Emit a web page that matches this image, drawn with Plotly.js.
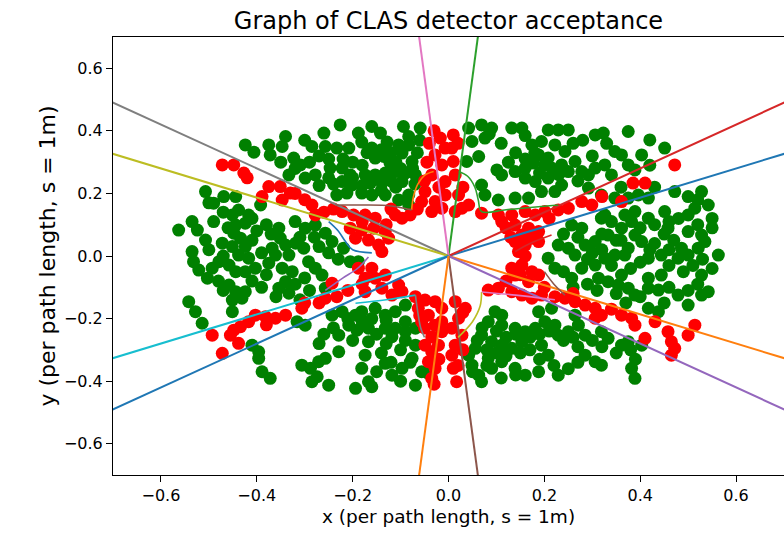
<!DOCTYPE html>
<html>
<head>
<meta charset="utf-8">
<script src="https://cdn.plot.ly/plotly-3.0.1.min.js"></script>
<style>html,body{margin:0;padding:0;background:#fff;}#chart{width:784px;height:539px;}</style>
</head>
<body>
<div id="chart"></div>
<script>
// accepted tracks (green), [x, y]
const greenPts = [
[-0.226,0.419],[-0.160,0.414],[-0.094,0.414],[-0.059,0.409],[-0.260,0.393],[-0.188,0.393],[-0.142,0.393],[-0.340,0.382],
[-0.181,0.364],[-0.128,0.364],[-0.083,0.382],[-0.083,0.355],[-0.285,0.350],[-0.257,0.350],[-0.233,0.345],[-0.208,0.345],
[-0.424,0.355],[-0.375,0.355],[-0.347,0.350],[-0.406,0.332],[-0.372,0.323],[-0.160,0.345],[-0.104,0.355],[-0.323,0.313],
[-0.309,0.291],[-0.153,0.313],[-0.135,0.318],[-0.122,0.297],[-0.097,0.329],[-0.076,0.302],[-0.247,0.281],[-0.222,0.281],
[-0.205,0.259],[-0.174,0.259],[-0.153,0.259],[-0.132,0.265],[-0.111,0.270],[-0.090,0.265],[-0.069,0.259],[-0.333,0.259],
[-0.299,0.249],[-0.278,0.259],[-0.222,0.238],[-0.201,0.227],[-0.163,0.233],[-0.139,0.233],[-0.097,0.238],[-0.507,0.206],
[-0.490,0.169],[-0.469,0.190],[-0.444,0.190],[-0.392,0.163],[-0.233,0.195],[-0.212,0.201],[-0.181,0.201],[-0.160,0.195],
[-0.132,0.195],[-0.104,0.179],[-0.083,0.195],[-0.083,0.163],[-0.438,0.147],[-0.417,0.131],[-0.451,0.131],[-0.563,0.083],
[-0.535,0.110],[-0.524,0.083],[-0.444,0.099],[-0.424,0.105],[-0.448,0.073],[-0.434,0.057],[-0.354,0.089],[-0.351,0.057],
[-0.299,0.089],[-0.278,0.099],[-0.257,0.073],[-0.243,0.046],[-0.507,0.051],[-0.472,0.041],[-0.451,0.030],[-0.424,0.030],
[-0.368,0.025],[-0.340,0.035],[-0.319,0.041],[-0.302,0.025],[-0.219,0.025],[-0.535,0.014],[-0.532,-0.018],[-0.521,-0.045],
[-0.503,-0.071],[-0.479,-0.018],[-0.458,-0.029],[-0.438,0.003],[-0.417,-0.007],[-0.403,-0.039],[-0.424,-0.050],[-0.444,-0.050],
[-0.493,-0.039],[-0.361,0.003],[-0.333,0.003],[-0.375,-0.023],[-0.347,-0.039],[-0.326,-0.050],[-0.292,-0.018],[-0.278,-0.039],
[-0.264,-0.061],[-0.205,-0.018],[-0.188,-0.018],[-0.458,-0.093],[-0.444,-0.114],[-0.424,-0.114],[-0.451,-0.141],[-0.431,-0.135],
[-0.340,-0.082],[-0.354,-0.103],[-0.333,-0.119],[-0.257,-0.103],[-0.542,-0.146],[-0.528,-0.178],[-0.451,-0.178],[-0.194,-0.189],
[-0.181,-0.178],[-0.153,-0.167],[-0.132,-0.189],[-0.111,-0.178],[-0.222,-0.178],[-0.243,-0.189],[-0.090,-0.157],[-0.514,-0.215],
[-0.299,-0.221],[-0.316,-0.210],[-0.208,-0.221],[-0.191,-0.237],[-0.167,-0.231],[-0.167,-0.274],[-0.132,-0.231],[-0.111,-0.231],
[-0.118,-0.258],[-0.090,-0.242],[-0.069,-0.231],[-0.069,-0.285],[-0.229,-0.253],[-0.410,-0.285],[-0.396,-0.306],[-0.396,-0.327],
[-0.389,-0.370],[-0.372,-0.391],[-0.229,-0.306],[-0.174,-0.317],[-0.181,-0.359],[-0.167,-0.402],[-0.306,-0.349],[-0.288,-0.359],
[-0.271,-0.338],[-0.257,-0.327],[-0.274,-0.386],[-0.285,-0.402],[-0.250,-0.413],[-0.132,-0.343],[-0.118,-0.381],[-0.097,-0.359],
[-0.076,-0.327],[-0.056,-0.370],[-0.042,-0.375],[-0.069,-0.413],[-0.194,-0.423],[-0.160,-0.418],
[-0.300,0.370],[-0.270,0.320],[-0.250,0.310],[-0.220,0.310],[-0.200,0.300],[-0.180,0.290],[-0.170,0.330],[-0.140,0.340],
[-0.120,0.330],[-0.110,0.300],[-0.100,0.280],[-0.120,0.240],[-0.110,0.220],[-0.140,0.210],[-0.180,0.225],[-0.200,0.250],
[-0.250,0.250],[-0.270,0.225],[-0.320,0.280],[-0.350,0.300],[-0.290,0.300],[-0.240,0.230],[-0.070,0.230],[-0.075,0.280],
[-0.065,0.330],[-0.060,0.370],[-0.500,0.170],[-0.470,0.140],[-0.490,0.110],[-0.460,0.090],[-0.410,0.120],[-0.400,0.080],
[-0.380,0.100],[-0.370,0.070],[-0.320,0.110],[-0.310,0.060],[-0.280,0.060],[-0.270,0.030],[-0.250,0.010],[-0.230,-0.010],
[-0.390,0.010],[-0.410,0.050],[-0.470,0.000],[-0.500,0.020],[-0.480,-0.080],[-0.470,-0.110],[-0.410,-0.080],[-0.390,-0.100],
[-0.380,-0.060],[-0.360,-0.130],[-0.320,-0.090],[-0.300,-0.070],[-0.290,-0.110],[-0.310,-0.140],[-0.090,-0.270],[-0.100,-0.300],
[-0.130,-0.280],[-0.150,-0.250],[-0.140,-0.310],[-0.120,-0.340],[-0.080,-0.340],[-0.100,-0.400],[-0.150,-0.370],[-0.200,-0.270],
[-0.210,-0.200],[-0.240,-0.230],[-0.260,-0.250],[-0.270,-0.280],[-0.180,-0.210],[-0.160,-0.200],[-0.130,-0.205],[-0.090,-0.210],
[0.042,0.409],[0.069,0.419],[0.090,0.409],[0.132,0.409],[0.153,0.409],[0.208,0.403],[0.229,0.403],[0.250,0.403],
[0.306,0.387],[0.323,0.393],[0.375,0.398],[0.420,0.371],[0.451,0.345],[0.049,0.366],[0.076,0.377],[0.174,0.355],
[0.194,0.366],[0.222,0.355],[0.243,0.334],[0.347,0.334],[0.361,0.323],[0.403,0.323],[0.063,0.318],[0.038,0.302],
[0.101,0.275],[0.111,0.259],[0.139,0.270],[0.160,0.281],[0.177,0.297],[0.188,0.323],[0.208,0.313],[0.215,0.281],
[0.236,0.291],[0.264,0.302],[0.278,0.270],[0.292,0.259],[0.306,0.281],[0.326,0.291],[0.340,0.259],[0.375,0.291],
[0.389,0.275],[0.160,0.249],[0.181,0.238],[0.208,0.249],[0.236,0.227],[0.069,0.227],[0.076,0.195],[0.104,0.179],
[0.139,0.185],[0.167,0.185],[0.194,0.206],[0.222,0.206],[0.292,0.217],[0.319,0.195],[0.347,0.185],[0.375,0.185],
[0.396,0.195],[0.417,0.185],[0.472,0.206],[0.528,0.206],[0.542,0.163],[0.514,0.153],[0.500,0.131],[0.451,0.142],
[0.389,0.142],[0.368,0.131],[0.326,0.131],[0.257,0.099],[0.278,0.089],[0.319,0.121],[0.340,0.110],[0.361,0.089],
[0.333,0.067],[0.306,0.046],[0.285,0.035],[0.382,0.110],[0.389,0.067],[0.403,0.046],[0.375,0.025],[0.417,0.121],
[0.458,0.089],[0.500,0.078],[0.528,0.067],[0.535,0.046],[0.521,0.025],[0.486,0.025],[0.229,0.035],[0.250,0.025],
[0.264,0.003],[0.208,-0.007],[0.222,-0.039],[0.278,-0.039],[0.306,-0.029],[0.326,-0.007],[0.347,0.003],[0.368,0.003],
[0.417,-0.007],[0.444,0.003],[0.479,-0.007],[0.500,0.003],[0.563,0.003],[0.257,-0.071],[0.313,-0.071],[0.333,-0.082],
[0.361,-0.061],[0.417,-0.071],[0.444,-0.061],[0.528,-0.061],[0.354,-0.093],[0.375,-0.103],[0.389,-0.125],[0.417,-0.103],
[0.438,-0.109],[0.479,-0.125],[0.528,-0.125],[0.542,-0.114],[0.500,-0.157],[0.417,-0.167],[0.438,-0.178],[0.097,-0.178],
[0.111,-0.189],[0.188,-0.178],[0.215,-0.167],[0.264,-0.189],[0.083,-0.210],[0.111,-0.221],[0.139,-0.231],[0.160,-0.242],
[0.181,-0.231],[0.201,-0.210],[0.222,-0.221],[0.229,-0.253],[0.250,-0.242],[0.271,-0.221],[0.285,-0.253],[0.319,-0.242],
[0.333,-0.263],[0.361,-0.285],[0.375,-0.274],[0.403,-0.285],[0.069,-0.253],[0.090,-0.274],[0.056,-0.295],[0.111,-0.285],
[0.132,-0.295],[0.153,-0.274],[0.194,-0.285],[0.042,-0.317],[0.049,-0.349],[0.063,-0.381],[0.069,-0.402],[0.090,-0.359],
[0.111,-0.338],[0.139,-0.359],[0.160,-0.381],[0.188,-0.370],[0.208,-0.317],[0.229,-0.381],[0.285,-0.317],[0.306,-0.338],
[0.319,-0.349],[0.382,-0.359],[0.389,-0.391],[0.083,-0.327],
[0.160,0.385],[0.180,0.330],[0.200,0.290],[0.160,0.310],[0.230,0.260],[0.250,0.270],[0.270,0.240],[0.190,0.265],
[0.125,0.300],[0.140,0.330],[0.110,0.360],[0.085,0.390],[0.300,0.320],[0.330,0.360],[0.280,0.370],[0.260,0.360],
[0.420,0.290],[0.430,0.220],[0.360,0.220],[0.500,0.190],[0.520,0.180],[0.550,0.120],[0.480,0.120],[0.460,0.110],
[0.430,0.100],[0.400,0.090],[0.350,0.050],[0.320,0.020],[0.300,0.010],[0.290,-0.010],[0.340,-0.030],[0.380,-0.040],
[0.400,-0.020],[0.460,-0.030],[0.490,-0.050],[0.550,-0.040],[0.520,-0.090],[0.500,-0.110],[0.460,-0.100],[0.400,-0.130],
[0.370,-0.150],[0.450,-0.150],[0.350,-0.120],[0.240,-0.050],[0.260,-0.100],[0.290,-0.090],[0.310,-0.110],
[0.070,-0.230],[0.100,-0.240],[0.120,-0.260],[0.140,-0.250],[0.170,-0.260],[0.190,-0.250],[0.210,-0.240],[0.240,-0.270],
[0.260,-0.260],[0.270,-0.290],[0.300,-0.270],[0.320,-0.290],[0.350,-0.310],[0.380,-0.300],[0.390,-0.330],[0.060,-0.270],
[0.080,-0.300],[0.100,-0.310],[0.120,-0.320],[0.150,-0.310],[0.170,-0.300],[0.190,-0.330],[0.220,-0.350],[0.250,-0.360],
[0.270,-0.340],[0.140,-0.380],[0.110,-0.390],[0.050,-0.370],[0.080,-0.350],[0.450,0.070],[0.470,0.050],[0.520,0.100],
[0.550,0.090],[0.530,-0.010],[0.510,-0.030],[0.430,0.040],[0.420,0.020],[0.460,0.020],[0.360,0.050],[0.320,0.070],
[0.270,0.060],[0.240,0.070]
];
// rejected tracks (red), [x, y]
const redPts = [
[-0.017,0.377],[-0.007,0.345],[-0.028,0.323],[-0.014,0.291],[-0.035,0.259],[-0.007,0.238],[-0.049,0.206],[-0.028,0.174],
[-0.056,0.174],[-0.035,0.142],[-0.007,0.195],[-0.014,0.153],[-0.472,0.291],[-0.448,0.291],[-0.427,0.265],[-0.375,0.222],
[-0.351,0.222],[-0.330,0.201],[-0.347,0.179],[-0.389,0.190],[-0.285,0.163],[-0.278,0.131],[-0.222,0.142],[-0.198,0.131],
[-0.174,0.131],[-0.153,0.121],[-0.111,0.131],[-0.097,0.121],[-0.080,0.131],[-0.205,0.089],[-0.181,0.083],[-0.156,0.089],
[-0.132,0.078],[-0.125,0.057],[-0.194,0.057],[-0.167,0.051],[-0.146,0.035],[-0.139,0.014],[-0.188,-0.039],[-0.160,-0.039],
[-0.132,-0.061],[-0.153,-0.071],[-0.174,-0.071],[-0.104,-0.093],[-0.243,-0.087],[-0.233,-0.130],[-0.257,-0.135],[-0.174,-0.114],
[-0.139,-0.103],[-0.118,-0.125],[-0.097,-0.114],[-0.069,-0.130],[-0.049,-0.141],[-0.028,-0.146],[-0.014,-0.167],[-0.063,-0.167],
[-0.042,-0.189],[-0.306,-0.167],[-0.340,-0.189],[-0.361,-0.199],[-0.382,-0.194],[-0.403,-0.189],[-0.417,-0.210],[-0.434,-0.226],
[-0.448,-0.237],[-0.493,-0.253],[-0.455,-0.253],[-0.438,-0.279],[-0.472,-0.311],[-0.028,-0.221],[-0.014,-0.242],[-0.035,-0.258],
[-0.049,-0.285],[-0.035,-0.306],[-0.021,-0.285],[-0.035,-0.391],[-0.028,-0.359],[-0.056,-0.210],[-0.014,-0.210],[-0.042,-0.338],
[-0.040,0.360],[-0.030,0.400],[-0.045,0.300],[-0.050,0.240],[-0.020,0.220],[-0.065,0.150],[-0.240,0.150],[-0.260,0.140],
[-0.300,0.180],[-0.320,0.200],[-0.420,0.250],[-0.180,0.110],[-0.130,0.100],[-0.120,0.150],[-0.180,-0.090],[-0.210,-0.110],
[-0.300,-0.150],[-0.270,-0.150],[-0.380,-0.220],[-0.030,-0.410],[-0.020,-0.330],[-0.050,-0.230],[-0.060,-0.190],
[0.010,0.387],[0.007,0.345],[0.010,0.302],[0.014,0.259],[0.472,0.291],[0.385,0.233],[0.410,0.233],[0.361,0.174],
[0.021,0.195],[0.028,0.153],[0.042,0.163],[0.014,0.142],[0.069,0.137],[0.104,0.131],[0.132,0.131],[0.160,0.142],
[0.181,0.131],[0.201,0.142],[0.229,0.147],[0.250,0.153],[0.278,0.174],[0.299,0.163],[0.111,0.110],[0.139,0.099],
[0.167,0.089],[0.188,0.078],[0.153,0.067],[0.174,0.057],[0.139,0.046],[0.160,0.035],[0.188,0.046],[0.146,0.014],
[0.132,-0.039],[0.153,-0.029],[0.174,-0.050],[0.188,-0.061],[0.139,-0.061],[0.167,-0.082],[0.083,-0.109],[0.104,-0.103],
[0.132,-0.114],[0.153,-0.125],[0.174,-0.135],[0.194,-0.125],[0.222,-0.130],[0.243,-0.135],[0.264,-0.146],[0.285,-0.157],
[0.306,-0.167],[0.319,-0.189],[0.361,-0.189],[0.382,-0.199],[0.389,-0.221],[0.431,-0.210],[0.514,-0.221],[0.014,-0.146],
[0.035,-0.167],[0.021,-0.199],[0.306,-0.199],[0.410,-0.263],[0.458,-0.242],[0.465,-0.274],[0.472,-0.295],[0.500,-0.253],
[0.465,-0.317],[0.007,-0.231],[0.028,-0.253],[0.014,-0.285],[0.007,-0.317],[0.010,-0.359],[0.017,-0.402],
[0.020,0.360],[0.030,0.220],[0.120,0.090],[0.210,0.120],[0.320,0.190],[0.130,0.060],[0.160,0.000],[0.150,-0.060],
[0.120,-0.080],[0.200,-0.100],[0.260,-0.120],[0.340,-0.170],[0.030,-0.180],[0.020,-0.350],[0.030,-0.300]
];
// sector boundary rays (degrees) and their colours
const rayAngles = [25, 335, 85, 35, 325, 275, 95, 145, 155, 205, 215, 265];
const rayColors = ['#1f77b4','#ff7f0e','#2ca02c','#d62728','#9467bd','#8c564b','#e377c2','#7f7f7f','#bcbd22','#17becf','#1f77b4','#ff7f0e'];
// inner boundary curves
const curves = [
  {c:'#ff7f0e', x:[-0.077,-0.073,-0.064,-0.050,-0.031], y:[0.147,0.190,0.230,0.258,0.270]},
  {c:'#2ca02c', x:[0.021,0.040,0.055,0.062,0.069,0.120,0.170,0.229], y:[0.270,0.255,0.220,0.180,0.142,0.148,0.155,0.163]},
  {c:'#8c564b', x:[-0.236,-0.180,-0.120,-0.077], y:[0.163,0.163,0.160,0.147]},
  {c:'#1f77b4', x:[-0.250,-0.230,-0.215,-0.200,-0.160], y:[0.110,0.080,0.046,0.020,0.010]},
  {c:'#9467bd', x:[-0.257,-0.220,-0.190,-0.167], y:[-0.110,-0.070,-0.040,-0.003]},
  {c:'#17becf', x:[-0.194,-0.130,-0.069], y:[-0.151,-0.140,-0.125]},
  {c:'#7f7f7f', x:[-0.069,-0.064,-0.058,-0.050], y:[-0.125,-0.180,-0.230,-0.260]},
  {c:'#bcbd22', x:[0.069,0.066,0.050,0.030,0.020], y:[-0.115,-0.160,-0.210,-0.245,-0.260]},
  {c:'#e377c2', x:[0.069,0.140,0.222], y:[-0.115,-0.125,-0.140]},
  {c:'#8c564b', x:[0.200,0.220,0.243], y:[-0.050,-0.090,-0.125]},
  {c:'#d62728', x:[0.139,0.170,0.215], y:[0.014,0.040,0.067]}
];

const traces = [];
traces.push({type:'scatter', mode:'markers', x:greenPts.map(p=>p[0]), y:greenPts.map(p=>p[1]),
  marker:{color:'#008000', size:13, line:{width:0}}, hoverinfo:'skip', showlegend:false});
traces.push({type:'scatter', mode:'markers', x:redPts.map(p=>p[0]), y:redPts.map(p=>p[1]),
  marker:{color:'#ff0000', size:13, line:{width:0}}, hoverinfo:'skip', showlegend:false});
const R = 1.5;
rayAngles.forEach((a,i)=>{
  const t = a*Math.PI/180;
  traces.push({type:'scatter', mode:'lines', x:[0, R*Math.cos(t)], y:[0, R*Math.sin(t)],
    line:{color:rayColors[i], width:2}, hoverinfo:'skip', showlegend:false});
});
curves.forEach(cv=>{
  traces.push({type:'scatter', mode:'lines', x:cv.x, y:cv.y, line:{color:cv.c, width:1.6, shape:'spline'}, hoverinfo:'skip', showlegend:false});
});

const tickFont = {family:'DejaVu Sans', size:16, color:'#000'};
const layout = {
  width:784, height:539,
  margin:{l:113, r:0, t:37, b:64, pad:0},
  paper_bgcolor:'#fff', plot_bgcolor:'#fff',
  title:{text:'Graph of CLAS detector acceptance', font:{family:'DejaVu Sans', size:24, color:'#000'}, x:0.572, xanchor:'center', y:0.962, yanchor:'middle'},
  xaxis:{range:[-0.7,0.7], tickvals:[-0.6,-0.4,-0.2,0,0.2,0.4,0.6], tickformat:'.1f', ticks:'outside', ticklen:6, tickwidth:1, tickcolor:'#000',
    showline:true, linecolor:'#000', linewidth:1, mirror:true, showgrid:false, zeroline:false, tickfont:tickFont,
    title:{text:'x (per path length, s = 1m)', font:{family:'DejaVu Sans', size:18.5, color:'#000'}, standoff:5}},
  yaxis:{range:[-0.7,0.7], tickvals:[-0.6,-0.4,-0.2,0,0.2,0.4,0.6], tickformat:'.1f', ticks:'outside', ticklen:6, tickwidth:1, tickcolor:'#000',
    showline:true, linecolor:'#000', linewidth:1, mirror:true, showgrid:false, zeroline:false, tickfont:tickFont,
    title:{text:'y (per path length, s = 1m)', font:{family:'DejaVu Sans', size:22, color:'#000'}, standoff:2}}
};
Plotly.newPlot('chart', traces, layout, {staticPlot:true, displayModeBar:false});
</script>
</body>
</html>
